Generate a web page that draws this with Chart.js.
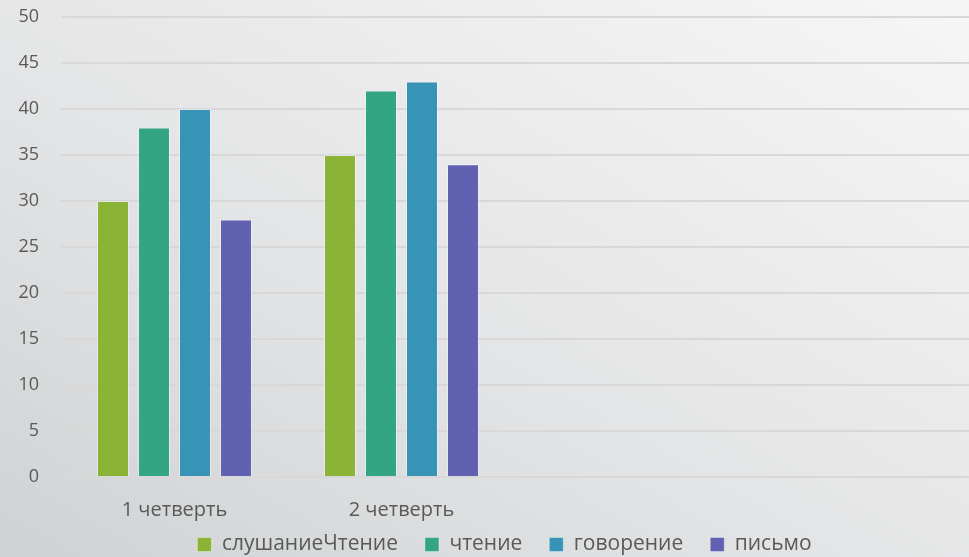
<!DOCTYPE html>
<html lang="ru">
<head>
<meta charset="utf-8">
<title>Четверти</title>
<script src="https://cdn.jsdelivr.net/npm/chart.js@4/dist/chart.umd.min.js"></script>
<style>
  html, body { margin: 0; padding: 0; }
  body {
    width: 969px; height: 557px; overflow: hidden;
    background: linear-gradient(to top right, #cfd2d4 0%, #e4e5e6 45%, #f6f6f6 100%);
  }
  #wrap { position: relative; width: 969px; height: 557px; }
</style>
</head>
<body>
<div id="wrap"><canvas id="chart"></canvas></div>
<script>
/* ========== Data ========== */
const categories = ['1 четверть', '2 четверть', '', ''];
const seriesNames = ['слушаниеЧтение', 'чтение', 'говорение', 'письмо'];
const listening = [30, 35, null, null];
const reading   = [38, 42, null, null];
const speaking  = [40, 43, null, null];
const writing   = [28, 34, null, null];
const yTicks = [0, 5, 10, 15, 20, 25, 30, 35, 40, 45, 50];

/* ========== Colors ========== */
const COLORS = {
  green:  '#8bb336',
  teal:   '#33a582',
  blue:   '#3794b6',
  purple: '#6062b1',
  text:   '#595959',
  grid:   '#d8d8d8'
};

const FONT = "'Open Sans', 'DejaVu Sans', sans-serif";

function makeSet(label, data, color) {
  return {
    label: label,
    data: data,
    backgroundColor: color,
    borderColor: 'rgba(255,255,255,0.35)',
    borderWidth: 1,
    categoryPercentage: 0.7225,
    barPercentage: 0.78
  };
}

/* ========== Legend placement (tight box, wide item spacing) ========== */
const legendPlacePlugin = {
  id: 'legendPlace',
  beforeInit(chart) {
    const legend = chart.legend;
    const fit = legend.fit;
    legend.fit = function () {
      fit.call(this);
      this.height = 35;
    };
  },
  afterLayout(chart) {
    const legend = chart.legend;
    legend.top = chart.height - 50;
    legend.bottom = chart.height;
    legend.height = 50;
    legend.left += 20;
    legend.right += 20;
  }
};

new Chart(document.getElementById('chart'), {
  type: 'bar',
  data: {
    labels: categories,
    datasets: [
      makeSet(seriesNames[0], listening, COLORS.green),
      makeSet(seriesNames[1], reading, COLORS.teal),
      makeSet(seriesNames[2], speaking, COLORS.blue),
      makeSet(seriesNames[3], writing, COLORS.purple)
    ]
  },
  options: {
    responsive: true,
    maintainAspectRatio: false,
    animation: false,
    layout: { padding: 0 },
    plugins: {
      tooltip: { enabled: false },
      legend: {
        position: 'bottom',
        labels: {
          color: COLORS.text,
          font: { family: FONT, size: 21 },
          boxWidth: 14,
          boxHeight: 14,
          padding: 27
        }
      }
    },
    scales: {
      x: {
        afterFit: axis => { axis.height = 45; },
        grid: { display: false, drawTicks: false },
        border: { display: false },
        ticks: { color: COLORS.text, font: { family: FONT, size: 20 }, padding: 21 }
      },
      y: {
        min: 0,
        max: 50,
        afterBuildTicks: axis => { axis.ticks = yTicks.map(v => ({ value: v })); },
        afterFit: axis => {
          axis.width = 61;
          axis.paddingTop = 17;
          axis.paddingBottom = 0;
        },
        grid: { color: COLORS.grid, lineWidth: 2, drawTicks: false },
        border: { display: false },
        ticks: { color: COLORS.text, font: { family: FONT, size: 18 }, padding: 22 }
      }
    }
  },
  plugins: [legendPlacePlugin]
});
</script>
</body>
</html>
